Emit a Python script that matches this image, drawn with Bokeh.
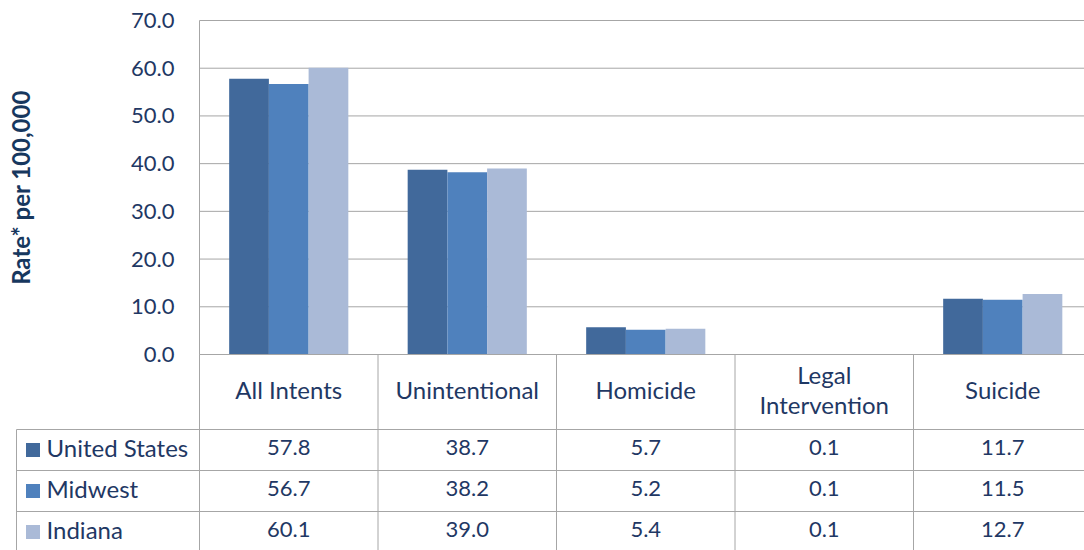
from bokeh.plotting import figure
from bokeh.models import ColumnDataSource, Range1d, FixedTicker, NumeralTickFormatter
from bokeh.transform import dodge
from bokeh.core.properties import value
from bokeh.embed import file_html
from bokeh.resources import INLINE

# ---------------- data ----------------
categories = ["All Intents", "Unintentional", "Homicide", "Legal\nIntervention", "Suicide"]
series = ["United States", "Midwest", "Indiana"]
united_states = [57.8, 38.7, 5.7, 0.1, 11.7]
midwest = [56.7, 38.2, 5.2, 0.1, 11.5]
indiana = [60.1, 39.0, 5.4, 0.1, 12.7]
y_ticks = [0, 10, 20, 30, 40, 50, 60, 70]
colors = ["#41699B", "#4F81BD", "#AABAD7"]

# ---------------- style / layout ----------------
FONT = "Lato"
TEXT = "#1F3864"
GRID = "#A6A6A6"
W, H = 1084, 550
PLOT_LEFT_PX, PLOT_TOP_PX = 199, 20   # where value 0 / value 70 sit
PPY = 334 / 70.0                      # pixels per rate unit
U = 178.5                             # pixels per category
Y_MAX = 70
y_end = Y_MAX + PLOT_TOP_PX / PPY
y_start = y_end - H / PPY
x_start = -PLOT_LEFT_PX / U
x_end = x_start + W / U
BAR_W = 0.2225

# table geometry (pixels below the zero line)
HEADER_PX, ROW_PX = 75, 41
LEFT_COL_PX = 183
NUDGE_PX = 2.5

def ty(px):
    return -(px - NUDGE_PX) / PPY

def ly(px):
    return -px / PPY

n = len(categories)
centers = [i + 0.5 for i in range(n)]
src = ColumnDataSource(dict(x=centers, us=united_states, mw=midwest, ind=indiana))

p = figure(width=W, height=H, x_range=Range1d(x_start, x_end), y_range=Range1d(y_start, y_end),
           output_backend="svg", toolbar_location=None, title=None, x_axis_location=None,
           min_border_left=0, min_border_right=0, min_border_top=0, min_border_bottom=0)
p.outline_line_color = None
p.xgrid.visible = False
p.ygrid.visible = False

# horizontal gridlines of the chart area
p.segment(x0=[0] * len(y_ticks), y0=y_ticks, x1=[n] * len(y_ticks), y1=y_ticks,
          line_color=GRID, line_width=1)

# bars
for col, off, c in zip(["us", "mw", "ind"], [-BAR_W, 0, BAR_W], colors):
    p.vbar(x=dodge("x", off, range=p.x_range), top=col, width=BAR_W, source=src,
           fill_color=c, line_color=None)

# value axis
ax = p.yaxis[0]
ax.fixed_location = 0
ax.bounds = (0, Y_MAX)
ax.ticker = FixedTicker(ticks=y_ticks)
ax.formatter = NumeralTickFormatter(format="0.0")
ax.major_tick_line_color = None
ax.minor_tick_line_color = None
ax.axis_line_color = GRID
ax.axis_line_width = 1
ax.major_label_standoff = 19
ax.major_label_text_font = FONT
ax.major_label_text_font_size = "22px"
ax.major_label_text_color = TEXT
ax.axis_label = "Rate* per 100,000"
ax.axis_label_text_font = FONT
ax.axis_label_text_font_style = "bold"
ax.axis_label_text_font_size = "24px"
ax.axis_label_text_color = "#17375E"
ax.axis_label_standoff = 93

# ---------------- data table ----------------
left_edge = -LEFT_COL_PX / U
bottom = y_start - 1
row_tops = [HEADER_PX + i * ROW_PX for i in range(len(series))]
row_mid = [ty(t + ROW_PX / 2) for t in row_tops]

# top border of the table (zero line), drawn above the bars
p.segment(x0=[0], y0=[0], x1=[n], y1=[0], line_color=GRID, line_width=1)
# vertical cell borders
p.segment(x0=list(range(n + 1)), y0=[0] * (n + 1), x1=list(range(n + 1)), y1=[bottom] * (n + 1),
          line_color=GRID, line_width=1)
# horizontal row borders
p.segment(x0=[left_edge] * len(row_tops), y0=[ly(t) for t in row_tops],
          x1=[n] * len(row_tops), y1=[ly(t) for t in row_tops], line_color=GRID, line_width=1)
# left border of the legend column
p.segment(x0=[left_edge], y0=[ly(HEADER_PX)], x1=[left_edge], y1=[bottom],
          line_color=GRID, line_width=1)

# header labels
p.text(x=centers, y=[ty(HEADER_PX / 2)] * n, text=categories, text_align="center",
       text_baseline="middle", text_font=value(FONT), text_font_size="24px",
       text_color=TEXT, text_line_height=1.05)

# values
xs, ys, labels = [], [], []
for r, vals in enumerate([united_states, midwest, indiana]):
    for c, v in enumerate(vals):
        xs.append(centers[c])
        ys.append(row_mid[r])
        labels.append(f"{v:.1f}")
p.text(x=xs, y=ys, text=labels, text_align="center", text_baseline="middle",
       text_font=value(FONT), text_font_size="22px", text_color=TEXT)

# legend keys + series names
key_mid = [ly(t + ROW_PX / 2) for t in row_tops]
p.scatter(x=[left_edge + 16.5 / U] * len(series), y=key_mid, marker="square", size=14,
          fill_color=colors, line_color=None)
p.text(x=[left_edge + 30 / U] * len(series), y=row_mid, text=series, text_align="left",
       text_baseline="middle", text_font=value(FONT), text_font_size="24px", text_color=TEXT)

open("out.html", "w").write(file_html(p, INLINE))
